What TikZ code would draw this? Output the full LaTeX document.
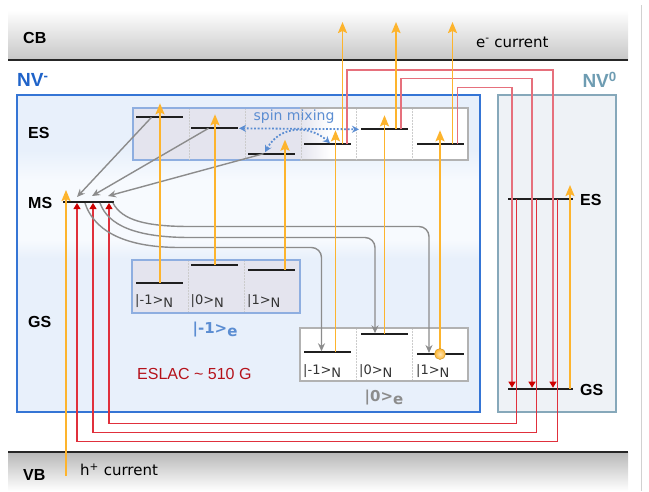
\documentclass[tikz,border=0pt]{standalone}
\usepackage{fontspec}
\setmainfont{Liberation Sans}
\newfontfamily\verd{DejaVu Sans}
\usetikzlibrary{arrows.meta,calc}

\definecolor{amber}{HTML}{FDB42D}
\definecolor{nvblue}{HTML}{1F63C9}
\definecolor{nvboxline}{HTML}{3575D5}
\definecolor{nvfill}{HTML}{E8F0FB}
\definecolor{nvpale}{HTML}{F7FAFE}
\definecolor{nvzero}{HTML}{6E9CB2}
\definecolor{nvzeroline}{HTML}{86A8BA}
\definecolor{nvzerofill}{HTML}{EEF2F6}
\definecolor{lilac}{HTML}{E4E4EE}
\definecolor{boxblue}{HTML}{8EAEE0}
\definecolor{mixblue}{HTML}{5B8DD2}
\definecolor{wirered}{HTML}{E0303C}
\definecolor{wirepink}{HTML}{E6707C}
\definecolor{tipred}{HTML}{CC0000}
\definecolor{eslac}{HTML}{B5121B}

\newcommand{\nket}[1]{{\verd\fontsize{13}{15}\selectfont|#1>\raisebox{-3pt}{N}}}
\newcommand{\eket}[1]{{\verd\bfseries\fontsize{15}{17}\selectfont|#1>\raisebox{-3pt}{e}}}

\begin{document}
\begin{tikzpicture}[x=1pt, y=-1pt,
  lvl/.style={fill=black!88, minimum width=47pt, minimum height=2pt, inner sep=0pt, outer sep=0pt},
  band/.style={font=\bfseries\fontsize{16}{18}\selectfont, anchor=west, inner sep=0pt},
  ket/.style={anchor=west, inner sep=0pt, text=black!80},
  amberarr/.style={draw=amber, line width=1.8pt, -{Stealth[width=9pt,length=11pt,inset=2pt]}},
  greyarr/.style={draw=black!45, line width=1.4pt, -{Stealth[width=7pt,length=8pt]}},
  mixarr/.style={draw=mixblue, line width=1.8pt, dash pattern=on 1.8pt off 1.8pt, {Stealth[width=7pt,length=7pt]}-{Stealth[width=7pt,length=7pt]}},
  toGS/.style={draw=wirepink, line width=1.1pt, -{Triangle[width=7pt,length=6pt,color=tipred]}},
  toMS/.style={draw=wirered, line width=1.1pt, -{Triangle[width=7pt,length=6pt,color=tipred]}},
  divider/.style={draw=black!20, line width=0.5pt, densely dotted}]
\useasboundingbox (0,0) rectangle (649,491);

% bands
\shade[top color=white, bottom color=black!22] (8,10) rectangle (628,60);
\draw[line width=1.6pt, black!85] (8,60) -- (628,60);
\shade[top color=black!28, bottom color=white] (8,452) rectangle (628,491);
\draw[line width=1.6pt, black!85] (8,452) -- (628,452);
\draw[black!18, line width=0.8pt] (641,5) -- (641,491);
\node[band] (cb) at (23,38) {CB};
\node[band] (vb) at (23,475) {VB};
\node[anchor=west, inner sep=0pt, font=\verd\fontsize{15}{17}\selectfont] (ecur) at (476,42) {e\textsuperscript{-} current};
\node[anchor=west, inner sep=0pt, font=\verd\fontsize{15}{17}\selectfont] (hcur) at (80,470) {h\textsuperscript{+} current};

% NV- and NV0 boxes
\fill[nvfill] (17,95) rectangle (480,412);
\shade[top color=nvfill, bottom color=nvpale] (17,150) rectangle (480,180);
\fill[nvpale] (17,180) rectangle (480,240);
\shade[top color=nvpale, bottom color=nvfill] (17,240) rectangle (480,258);
\draw[nvboxline, line width=1.5pt] (17,95) rectangle (480,412);
\draw[nvzeroline, fill=nvzerofill, line width=1.5pt] (498,95) rectangle (616,412);
\node[anchor=west, inner sep=0pt, text=nvblue, font=\bfseries\fontsize{19}{21}\selectfont] (nvm) at (17,80) {NV\textsuperscript{-}};
\node[anchor=east, inner sep=0pt, text=nvzero, font=\bfseries\fontsize{19}{21}\selectfont] (nvz) at (617,80) {NV\textsuperscript{0}};
\node[band] (esl) at (28,133) {ES};
\node[band] (msl) at (28,203) {MS};
\node[band] (gsl) at (28,322) {GS};
\node[band] (es0l) at (580,200) {ES};
\node[band] (gs0l) at (580,390) {GS};

% sublevel boxes
\fill[lilac] (133,108) rectangle (300,160);
\shade[left color=lilac, right color=white] (300,108) rectangle (330,160);
\fill[white] (330,108) rectangle (468,160);
\draw[black!30, line width=1.5pt] (133,108) rectangle (468,160);
\draw[boxblue, line width=1.2pt] (300,108) -- (133,108) -- (133,160) -- (300,160);
\foreach \x in {189,245,301,356,412} \draw[divider] (\x,109) -- (\x,159);
\draw[boxblue, fill=lilac, line width=1.2pt] (132,260) rectangle (300,313);
\foreach \x in {188,244} \draw[divider] (\x,261) -- (\x,312);
\draw[black!30, fill=white, line width=1.2pt] (300,328) rectangle (468,381);
\foreach \x in {356,412} \draw[divider] (\x,329) -- (\x,380);

% levels
\node[lvl] (e1) at (159.5,117.3) {};
\node[lvl] (e2) at (214.5,128.3) {};
\node[lvl] (e3) at (271.5,153.7) {};
\node[lvl] (e4) at (327.5,144.3) {};
\node[lvl] (e5) at (384.5,129.3) {};
\node[lvl] (e6) at (440,144.3) {};
\node[lvl] (g1) at (159.5,283.3) {};
\node[lvl] (g2) at (214.5,265.3) {};
\node[lvl] (g3) at (271.5,270) {};
\node[lvl] (h1) at (327.5,352.3) {};
\node[lvl] (h2) at (384.5,334.3) {};
\node[lvl] (h3) at (440,354) {};
\node[lvl, minimum width=51pt] (ms) at (88,202) {};
\node[lvl, minimum width=65pt] (es0) at (540.5,199) {};
\node[lvl, minimum width=65pt] (gs0) at (540.5,388.7) {};

\node[ket] (k1) at (135,301) {\nket{-1}};
\node[ket] (k2) at (190.5,301) {\nket{0}};
\node[ket] (k3) at (247,301) {\nket{1}};
\node[ket] (k4) at (303,371) {\nket{-1}};
\node[ket] (k5) at (359,371) {\nket{0}};
\node[ket] (k6) at (416,371) {\nket{1}};
\node[text=mixblue, inner sep=0pt] (lab1) at (215,330) {\eket{-1}};
\node[text=black!45, inner sep=0pt] (lab0) at (384,398) {\eket{0}};
\node[anchor=west, inner sep=0pt, text=eslac, font=\fontsize{16}{18}\selectfont] (eslac) at (137,374) {ESLAC \textasciitilde{} 510 G};

% red wires
\coordinate (t1) at (553,70);
\coordinate (t2) at (532,78.3);
\coordinate (t3) at (512,87.3);
\draw[toGS] ([xshift=-4pt]e4.east) |- (t1) -- (t1 |- gs0.north);
\draw[toGS] ([xshift=-7pt]e5.east) |- (t2) -- (t2 |- gs0.north);
\draw[toGS] ([xshift=-6pt]e6.east) |- (t3) -- (t3 |- gs0.north);
\coordinate (b1) at (109,423.3);
\coordinate (b2) at (93,432.3);
\coordinate (b3) at (77,441.7);
\draw[toMS] ([xshift=-24pt]es0.center) |- (b1) -- (b1 |- ms.south);
\draw[toMS] ([xshift=-4pt]es0.center) |- (b2) -- (b2 |- ms.south);
\draw[toMS] ([xshift=17pt]es0.center) |- (b3) -- (b3 |- ms.south);

% grey decay
\draw[greyarr] ([xshift=-8pt]e1.center) -- ([xshift=-11pt,yshift=5pt]ms.center);
\draw[greyarr] ([xshift=-6pt]e2.center) -- ([xshift=4pt,yshift=6pt]ms.center);
\draw[greyarr] ([xshift=-8pt]e3.center) -- ([xshift=20pt,yshift=6pt]ms.center);
\draw[greyarr, rounded corners=10pt] ([xshift=25pt]ms.south) .. controls (122,220) and (145,226.5) .. (200,226.5) -| ([xshift=-11pt]h3.north);
\draw[greyarr, rounded corners=10pt] ([xshift=12pt]ms.south) .. controls (108,225) and (135,237.5) .. (200,237.5) -| ([xshift=-9.5pt]h2.north);
\draw[greyarr, rounded corners=10pt] ([xshift=-3pt]ms.south) .. controls (93,228) and (120,247.5) .. (190,247.5) -| ([xshift=-6pt]h1.north);

% orange pumping
\coordinate (c1) at (342.5,22);
\coordinate (c2) at (396,22);
\coordinate (c3) at (452.5,22);
\coordinate (hole) at (66,476);
\draw[amberarr] ([xshift=.5pt]g1.center) -- ([xshift=.5pt,yshift=14pt]e1.center);
\draw[amberarr] ([xshift=.5pt]g2.center) -- ([xshift=.5pt,yshift=14pt]e2.center);
\draw[amberarr] ([xshift=13.5pt]g3.center) -- ([xshift=13.5pt,yshift=14pt]e3.center);
\draw[amberarr] ([xshift=8pt]h1.center) -- ([xshift=8pt,yshift=14pt]e4.center);
\draw[amberarr] (h2.center) -- ([yshift=14pt]e5.center);
\draw[amberarr] (h3.center) -- ([yshift=14pt]e6.center);
\draw[amberarr] ([xshift=15pt]e4.center) -- (c1);
\draw[amberarr] ([xshift=11.5pt]e5.center) -- (c2);
\draw[amberarr] ([xshift=12.5pt]e6.center) -- (c3);
\draw[amberarr] (hole) -- ([xshift=-22pt,yshift=12pt]ms.center);
\draw[amberarr] ([xshift=29.5pt]gs0.center) -- ([xshift=29.5pt,yshift=14pt]es0.center);
\node[circle, draw=amber!80!black, inner color=amber!35, outer color=amber, minimum size=11pt, inner sep=0pt] (spot) at (h3.center) {};

% spin mixing
\draw[mixarr, shorten <=1pt, shorten >=2pt] (e2.east) -- (e5.west);
\draw[mixarr] ([xshift=-6.5pt,yshift=1.5pt]e3.center) .. controls (280,125) and (310,125) .. ([xshift=2.5pt,yshift=1pt]e4.center);
\node[text=mixblue, inner sep=0pt, font=\verd\fontsize{14}{16}\selectfont] (mix) at (294,117) {spin mixing};
\end{tikzpicture}
\end{document}
